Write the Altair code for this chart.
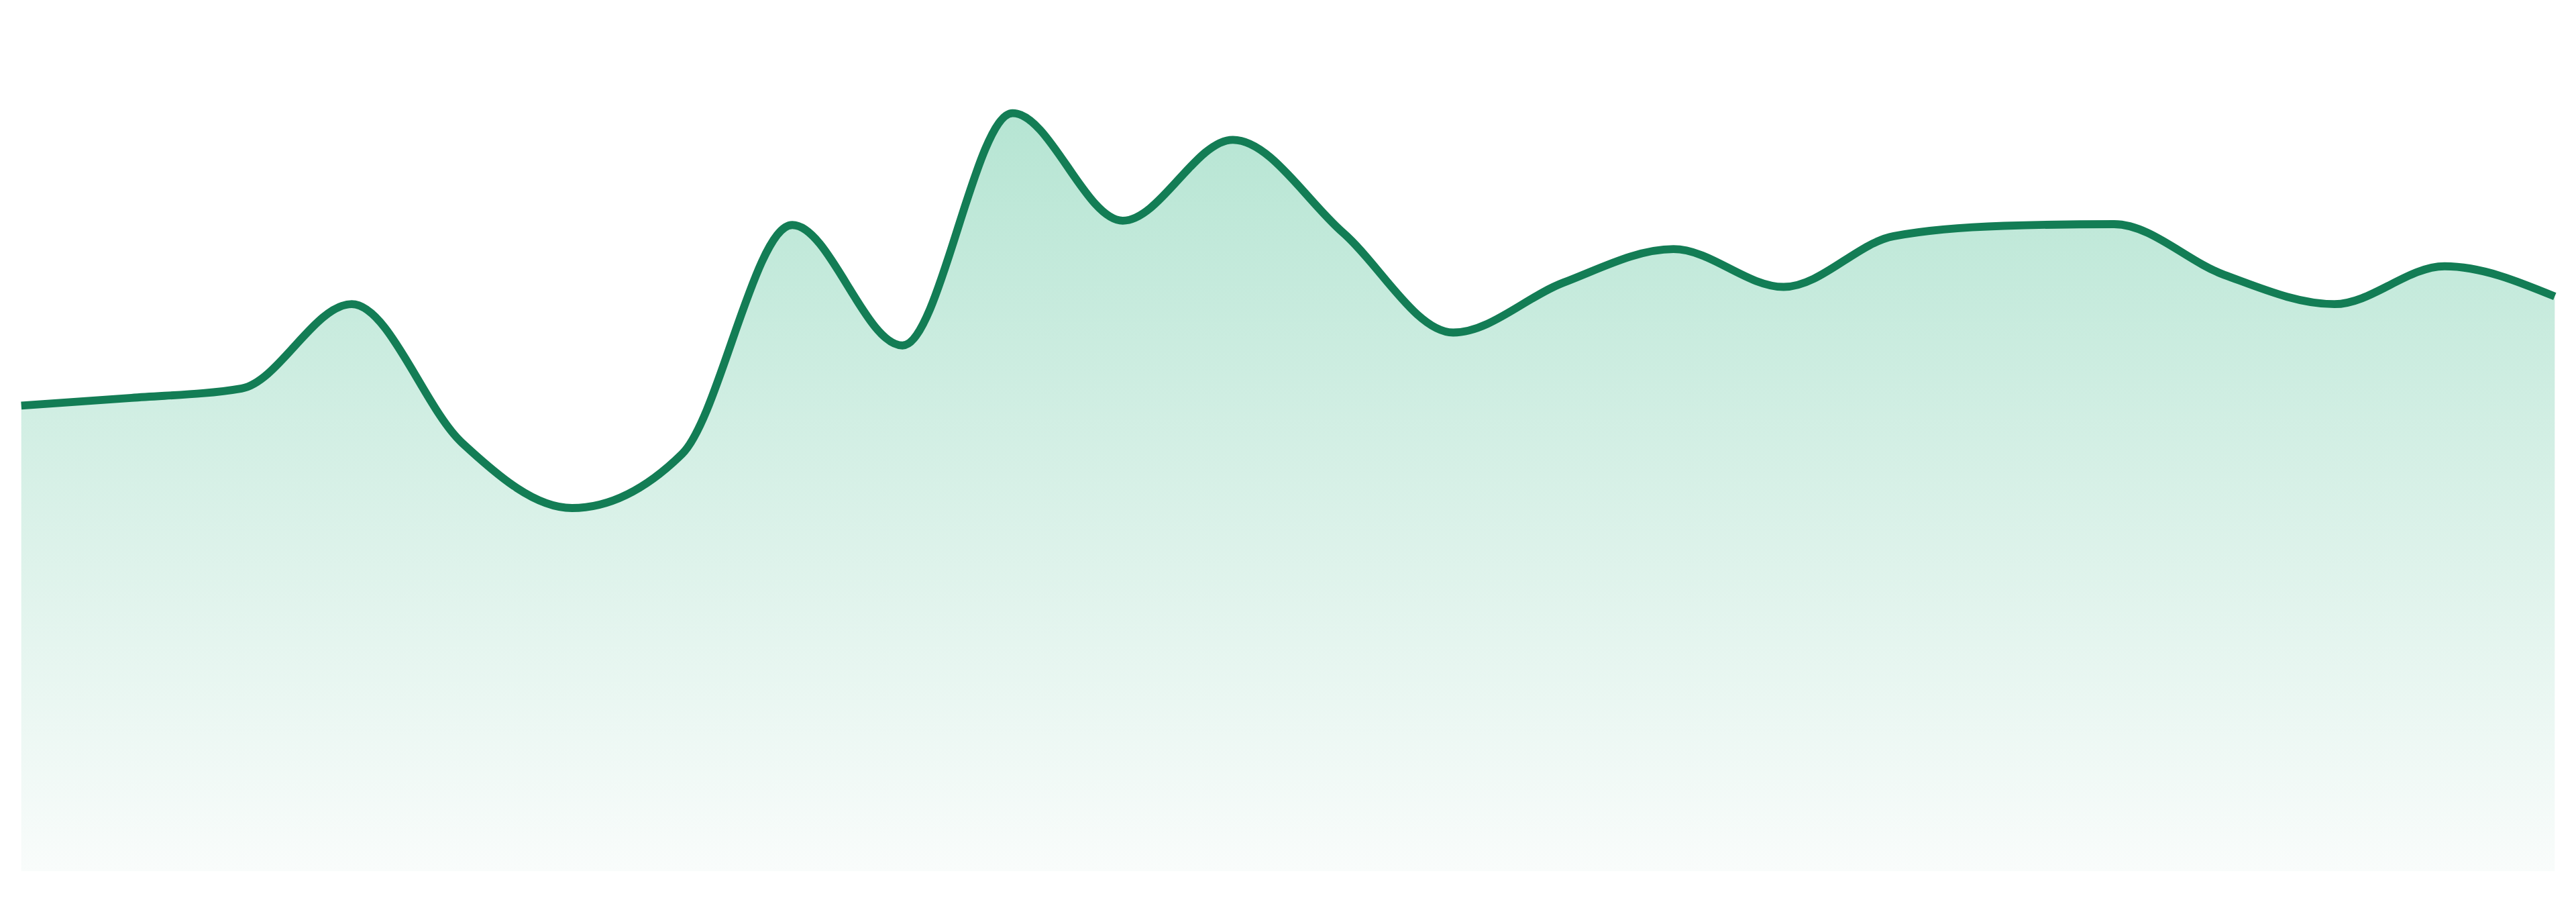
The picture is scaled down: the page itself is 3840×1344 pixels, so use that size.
import altair as alt
import pandas as pd

# Point index along the x axis (evenly spaced)
idx = list(range(24))
# Series values (0 = baseline, 100 = top of plot)
values = [54.1, 55.0, 56.1, 65.9, 49.8, 42.2, 48.5, 75.1, 61.1, 88.1, 75.6, 85.0,
          74.2, 62.6, 68.4, 72.3, 67.9, 73.8, 75.0, 75.2, 69.3, 65.9, 70.3, 66.8]

df = pd.DataFrame({"i": idx, "v": values})

LINE = "#137d55"
TOP = "#b6e5d3"
BOTTOM = "#f9fcfb"

x = alt.X("i:Q", axis=None, scale=alt.Scale(domain=[0, 23], nice=False, zero=False))
y = alt.Y("v:Q", axis=None, scale=alt.Scale(domain=[0, 100], nice=False))

base = alt.Chart(df).encode(x=x, y=y)

area = base.mark_area(
    interpolate="monotone",
    color=alt.Gradient(
        gradient="linear",
        stops=[alt.GradientStop(color=TOP, offset=0), alt.GradientStop(color=BOTTOM, offset=1)],
        x1=1, x2=1, y1=0, y2=1,
    ),
)

line = base.mark_line(interpolate="monotone", color=LINE, strokeWidth=12)

chart = (
    alt.layer(area, line)
    .properties(width=3824, height=1298, padding=0, background="white")
    .configure_view(stroke=None, strokeWidth=0)
)

chart.save("out.html", embed_options={"renderer": "svg", "actions": False})
